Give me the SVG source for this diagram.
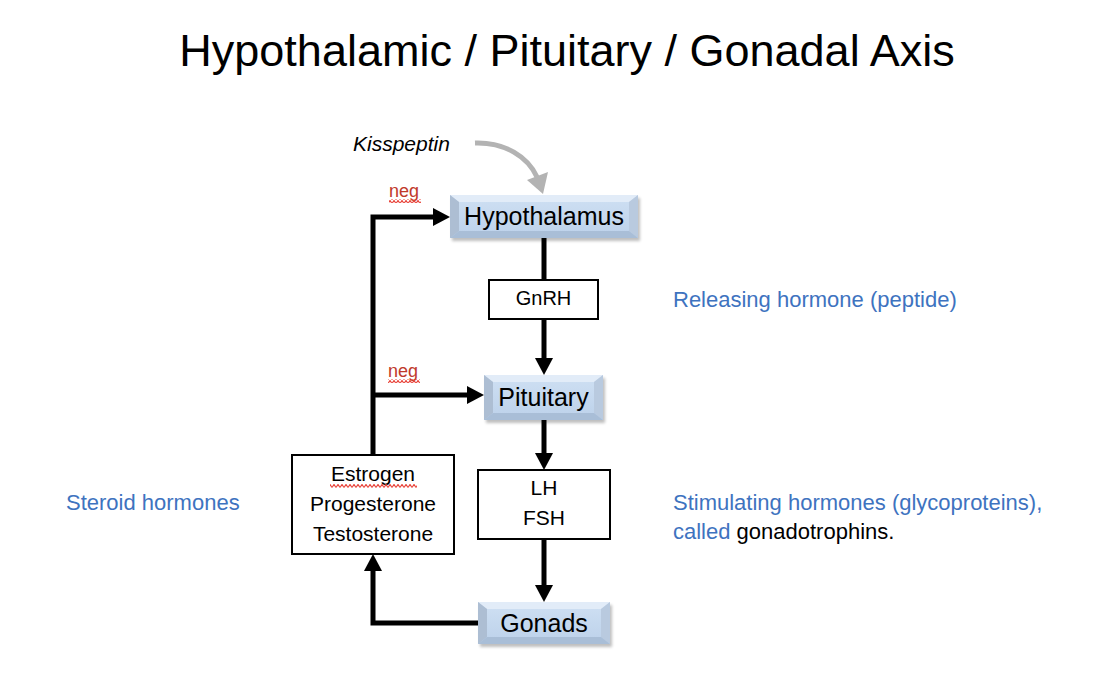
<svg xmlns="http://www.w3.org/2000/svg" width="1110" height="694" viewBox="0 0 1110 694">
<style>
text{font-family:"Liberation Sans",Arial,sans-serif;fill:#000}
.title{font-size:45px}
.blue{fill:#3e73bf;font-size:22px}
.neg{fill:#c0392b;font-size:18px}
.bx{font-size:25px}
.sm{font-size:21px}
.plain{fill:#fff;stroke:#000;stroke-width:2}
.conn{fill:none;stroke:#000;stroke-width:5;stroke-linejoin:miter}
.face{fill:url(#faceG)}
.bt{fill:#e2ecf8}
.bl{fill:#adbed3}
.br{fill:#b9cadf}
.bb{fill:#a9bed7}
.shadow{fill:#000;opacity:0.25;filter:url(#blur)}
</style>
<defs>
<linearGradient id="faceG" x1="0" y1="0" x2="0" y2="1">
<stop offset="0" stop-color="#cfe0f3"/>
<stop offset="1" stop-color="#bcd1ea"/>
</linearGradient>
<filter id="blur" x="-10%" y="-30%" width="120%" height="160%"><feGaussianBlur stdDeviation="1.5"/></filter>
<marker id="ah" markerUnits="userSpaceOnUse" markerWidth="17" markerHeight="18" refX="6" refY="9" orient="auto">
<path d="M0,0 L17,9 L0,18 z" fill="#000"/>
</marker>
<pattern id="wave" width="4" height="4" patternUnits="userSpaceOnUse">
<path d="M0,3.5 L2,0.5 L4,3.5" fill="none" stroke="#e8443a" stroke-width="1.2"/>
</pattern>
</defs>

<text class="title" x="567" y="66" text-anchor="middle">Hypothalamic / Pituitary / Gonadal Axis</text>

<g id="connectors">
<path class="conn" d="M544,238 V280"/>
<path class="conn" d="M544,319 V364" marker-end="url(#ah)"/>
<path class="conn" d="M544,420 V459" marker-end="url(#ah)"/>
<path class="conn" d="M544,539 V591" marker-end="url(#ah)"/>
<path class="conn" d="M478,623 H373 V565" marker-end="url(#ah)"/>
<path class="conn" d="M373,455 V217 H439" marker-end="url(#ah)"/>
<path class="conn" d="M373,395 H473" marker-end="url(#ah)"/>
<path d="M475,143 C505,142 528,157 537,177" fill="none" stroke="#b3b3b3" stroke-width="5"/>
<polygon points="527,180 548,172 543,194" fill="#b3b3b3"/>
</g>

<g id="kisspeptin">
<text x="353" y="151" font-size="21" font-style="italic">Kisspeptin</text>
</g>

<g id="neg-top">
<text class="neg" x="389" y="197">neg</text>
<rect x="389" y="199" width="32" height="4" fill="url(#wave)"/>
</g>

<g id="hypothalamus">
<rect class="shadow" x="452" y="198" width="188" height="43"/>
<rect class="face" x="450" y="195" width="188" height="43"/>
<polygon class="bt" points="450,195 638,195 629,202 459,202"/>
<polygon class="bl" points="450,195 459,202 459,231 450,238"/>
<polygon class="br" points="638,195 638,238 629,231 629,202"/>
<polygon class="bb" points="450,238 459,231 629,231 638,238"/>
<text class="bx" x="544" y="225" text-anchor="middle">Hypothalamus</text>
</g>

<g id="gnrh">
<rect class="plain" x="489" y="280" width="109" height="39"/>
<text x="543.5" y="305" font-size="20" text-anchor="middle">GnRH</text>
</g>

<g id="releasing-label">
<text class="blue" x="673" y="307">Releasing hormone (peptide)</text>
</g>

<g id="neg-mid">
<text class="neg" x="388" y="377">neg</text>
<rect x="388" y="379" width="32" height="4" fill="url(#wave)"/>
</g>

<g id="pituitary">
<rect class="shadow" x="486" y="378" width="119" height="45"/>
<rect class="face" x="484" y="375" width="119" height="45"/>
<polygon class="bt" points="484,375 603,375 594,382 493,382"/>
<polygon class="bl" points="484,375 493,382 493,413 484,420"/>
<polygon class="br" points="603,375 603,420 594,413 594,382"/>
<polygon class="bb" points="484,420 493,413 594,413 603,420"/>
<text class="bx" x="543.5" y="406" text-anchor="middle">Pituitary</text>
</g>

<g id="steroids">
<rect class="plain" x="292" y="455" width="162" height="99"/>
<text class="sm" x="373" y="481" text-anchor="middle">Estrogen</text>
<rect x="330" y="484" width="87" height="4" fill="url(#wave)"/>
<text class="sm" x="373" y="511" text-anchor="middle">Progesterone</text>
<text class="sm" x="373" y="541" text-anchor="middle">Testosterone</text>
</g>

<g id="steroid-label">
<text class="blue" x="66" y="510">Steroid hormones</text>
</g>

<g id="lhfsh">
<rect class="plain" x="478" y="470" width="132" height="69"/>
<text class="sm" x="544" y="495" text-anchor="middle">LH</text>
<text class="sm" x="544" y="525" text-anchor="middle">FSH</text>
</g>

<g id="stimulating-label">
<text class="blue" x="673" y="510">Stimulating hormones (glycoproteins),</text>
<text class="blue" x="673" y="539">called <tspan fill="#000">gonadotrophins.</tspan></text>
</g>

<g id="gonads">
<rect class="shadow" x="480" y="605" width="132" height="42"/>
<rect class="face" x="478" y="602" width="132" height="42"/>
<polygon class="bt" points="478,602 610,602 601,609 487,609"/>
<polygon class="bl" points="478,602 487,609 487,637 478,644"/>
<polygon class="br" points="610,602 610,644 601,637 601,609"/>
<polygon class="bb" points="478,644 487,637 601,637 610,644"/>
<text class="bx" x="544" y="632" text-anchor="middle" font-size="24">Gonads</text>
</g>
</svg>
